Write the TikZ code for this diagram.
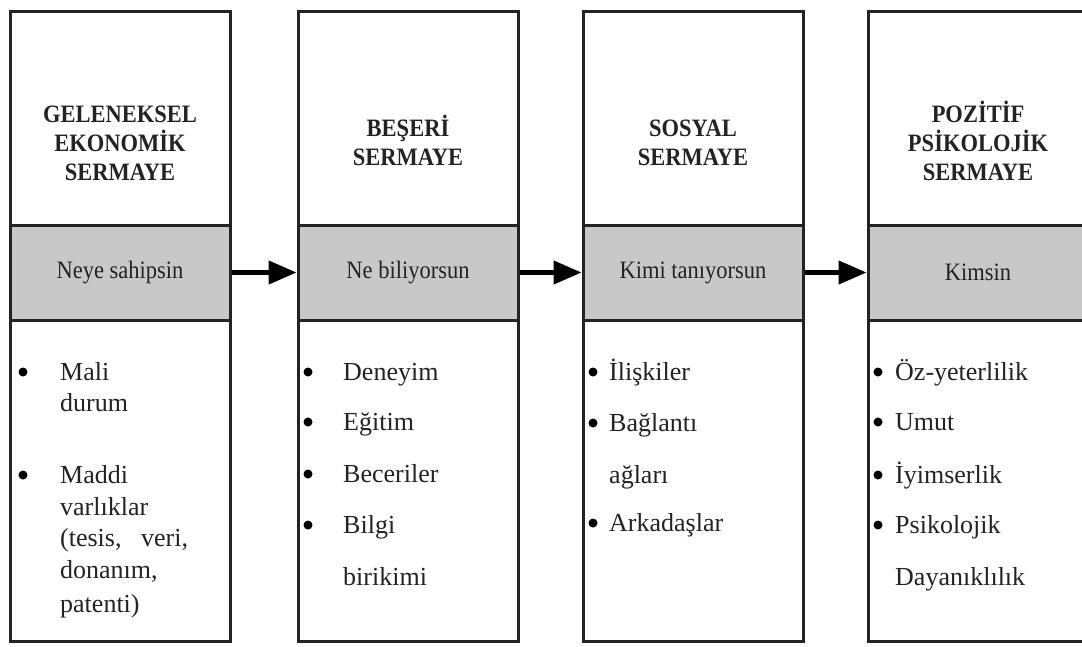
\documentclass[tikz,border=0pt]{standalone}
\usepackage{fontspec}
\setmainfont{Liberation Serif}
\newfontfamily\narrow[FakeStretch=0.9]{Liberation Serif}
\usetikzlibrary{arrows.meta}
\definecolor{band}{RGB}{200,200,200}
\definecolor{ink}{RGB}{35,35,35}
\begin{document}
\begin{tikzpicture}[x=1pt,y=-1pt,
  frame/.style={draw=ink, line width=3pt, inner sep=0pt, minimum width=220pt},
  bandbox/.style={frame, fill=band},
  title/.style={align=center, font=\narrow\bfseries\fontsize{25}{29}\selectfont, text=ink, inner sep=0pt},
  label/.style={font=\narrow\fontsize{25}{29}\selectfont, text=ink, inner sep=0pt},
  item/.style={anchor=base west, font=\fontsize{26}{30}\selectfont, text=ink, inner sep=0pt},
  dot/.style={circle, fill=black, inner sep=0pt, minimum size=9pt},
  flow/.style={line width=4.5pt, draw=black, -{Triangle[length=28pt,width=23pt]}}
]
\clip (0,0) rectangle (1082,646);
\fill[white] (0,0) rectangle (1082,646);

% column 1
\node[frame, minimum height=214pt] (top1) at (120,118) {};
\node[bandbox, minimum height=95pt] (band1) at (120,272.5) {};
\node[frame, minimum height=321pt] (bot1) at (120,480.5) {};
% column 2
\node[frame, minimum height=214pt] (top2) at (408,118) {};
\node[bandbox, minimum height=95pt] (band2) at (408,272.5) {};
\node[frame, minimum height=321pt] (bot2) at (408,480.5) {};
% column 3
\node[frame, minimum height=214pt] (top3) at (693,118) {};
\node[bandbox, minimum height=95pt] (band3) at (693,272.5) {};
\node[frame, minimum height=321pt] (bot3) at (693,480.5) {};
% column 4
\node[frame, minimum height=214pt] (top4) at (978,118) {};
\node[bandbox, minimum height=95pt] (band4) at (978,272.5) {};
\node[frame, minimum height=321pt] (bot4) at (978,480.5) {};

% titles
\node[title] (t1) at (120,143) {GELENEKSEL\\EKONOMİK\\SERMAYE};
\node[title] (t2) at (408,140) {BEŞERİ\\SERMAYE};
\node[title] (t3) at (693,143) {SOSYAL\\SERMAYE};
\node[title] (t4) at (978,141) {POZİTİF\\PSİKOLOJİK\\SERMAYE};

% band labels
\node[label] (l1) at (band1) {Neye sahipsin};
\node[label] (l2) at (band2) {Ne biliyorsun};
\node[label] (l3) at (band3) {Kimi tanıyorsun};
\node[label] (l4) at (band4) {Kimsin};

% arrows
\draw[flow] (band1.east) -- (band2.west);
\draw[flow] (band2.east) -- (band3.west);
\draw[flow] (band3.east) -- (band4.west);

% column 1 list
\node[dot] (d11) at (23,372) {};
\node[dot] (d12) at (23,475) {};
\node[item] (a1) at (60,380) {Mali};
\node[item] (a2) at (60,411) {durum};
\node[item] (a3) at (60,483) {Maddi};
\node[item] (a4) at (60,515) {varlıklar};
\node[item] (a5) at (60,546) {(tesis,\ \ \ veri,};
\node[item] (a6) at (60,578) {donanım,};
\node[item] (a7) at (60,612) {patenti)};

% column 2 list
\node[dot] (d21) at (308,372) {};
\node[dot] (d22) at (308,422) {};
\node[dot] (d23) at (308,474) {};
\node[dot] (d24) at (308,525) {};
\node[item] (b1) at (343,380) {Deneyim};
\node[item] (b2) at (343,430) {Eğitim};
\node[item] (b3) at (343,482) {Beceriler};
\node[item] (b4) at (343,533) {Bilgi};
\node[item] (b5) at (343,585) {birikimi};

% column 3 list
\node[dot] (d31) at (593,372) {};
\node[dot] (d32) at (593,423) {};
\node[dot] (d33) at (593,523) {};
\node[item] (c1) at (609,380) {İlişkiler};
\node[item] (c2) at (609,431) {Bağlantı};
\node[item] (c3) at (609,483) {ağları};
\node[item] (c4) at (609,531) {Arkadaşlar};

% column 4 list
\node[dot] (d41) at (878,372) {};
\node[dot] (d42) at (878,422) {};
\node[dot] (d43) at (878,475) {};
\node[dot] (d44) at (878,525) {};
\node[item] (e1) at (895,380) {Öz-yeterlilik};
\node[item] (e2) at (895,430) {Umut};
\node[item] (e3) at (895,483) {İyimserlik};
\node[item] (e4) at (895,533) {Psikolojik};
\node[item] (e5) at (895,585) {Dayanıklılık};
\end{tikzpicture}
\end{document}
